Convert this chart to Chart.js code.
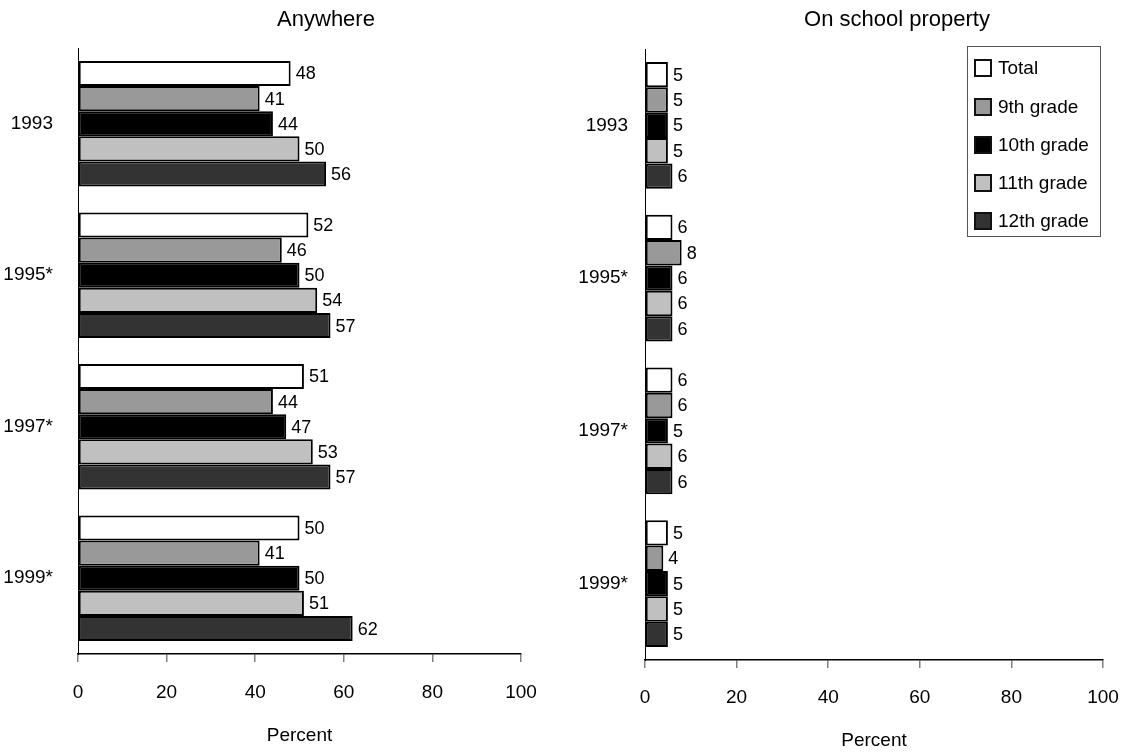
<!DOCTYPE html>
<html lang="en">

<head>
    <meta charset="UTF-8">
    <title>Carried a weapon</title>
    <script src="https://cdn.jsdelivr.net/npm/chart.js"></script>
    <style>
        body {
            margin: 0;
            background: #ffffff;
            font-family: 'Liberation Sans', Arial, sans-serif;
        }

        .panel {
            position: absolute;
            top: 0;
        }

        .panel-title {
            position: absolute;
            top: 6px;
            font-size: 22px;
            color: #000;
            transform: translateX(-50%);
            white-space: nowrap;
        }

        #legend {
            position: absolute;
            left: 967px;
            top: 46px;
            width: 134px;
            height: 191px;
            border: 1px solid #555;
            box-sizing: border-box;
            font-size: 19px;
        }

        .legend-item {
            position: absolute;
            left: 6px;
            height: 24px;
            display: flex;
            align-items: center;
            white-space: nowrap;
        }

        .legend-box {
            width: 18px;
            height: 18px;
            box-sizing: border-box;
            border: 2px solid #111;
            margin-right: 6px;
        }
    </style>
</head>

<body>

    <div class="panel" style="left:0px; width:560px; height:753px;">
        <canvas id="anywhere" width="560" height="753"></canvas>
    </div>
    <div class="panel" style="left:560px; width:565px; height:753px;">
        <canvas id="school" width="565" height="753"></canvas>
    </div>

    <div class="panel-title" style="left:326px;">Anywhere</div>
    <div class="panel-title" style="left:897px;">On school property</div>

    <div id="legend"></div>

    <script>
        const years = ['1993', '1995*', '1997*', '1999*'];
        const seriesNames = ['Total', '9th grade', '10th grade', '11th grade', '12th grade'];
        const seriesColors = ['#ffffff', '#999999', '#000000', '#c0c0c0', '#333333'];
        const xTicks = [0, 20, 40, 60, 80, 100];

        // Anywhere
        const anyTotal = [48, 52, 51, 50];
        const anyGrade9 = [41, 46, 44, 41];
        const anyGrade10 = [44, 50, 47, 50];
        const anyGrade11 = [50, 54, 53, 51];
        const anyGrade12 = [56, 57, 57, 62];

        // On school property
        const schTotal = [5, 6, 6, 5];
        const schGrade9 = [5, 8, 6, 4];
        const schGrade10 = [5, 6, 5, 5];
        const schGrade11 = [5, 6, 6, 5];
        const schGrade12 = [6, 6, 6, 5];

        const FONT = "'Liberation Sans', Arial, sans-serif";

        // value labels at the end of every bar
        const barLabels = {
            id: 'barLabels',
            afterDatasetsDraw(chart) {
                const ctx = chart.ctx;
                ctx.save();
                ctx.font = '18px ' + FONT;
                ctx.fillStyle = '#000';
                ctx.textBaseline = 'middle';
                ctx.textAlign = 'left';
                chart.data.datasets.forEach((ds, i) => {
                    chart.getDatasetMeta(i).data.forEach((bar, j) => {
                        ctx.fillText(ds.data[j], bar.x + 5, bar.y + 1);
                    });
                });
                ctx.restore();
            }
        };

        function makeDatasets(seriesData) {
            return seriesData.map((values, i) => ({
                label: seriesNames[i],
                data: values,
                backgroundColor: seriesColors[i],
                borderColor: '#000',
                borderWidth: 2,
                borderSkipped: false,
                categoryPercentage: 0.83,
                barPercentage: 1.0
            }));
        }

        function makeChart(canvasId, seriesData, lay) {
            const ctx = document.getElementById(canvasId).getContext('2d');
            return new Chart(ctx, {
                type: 'bar',
                data: {
                    labels: years,
                    datasets: makeDatasets(seriesData)
                },
                plugins: [barLabels],
                options: {
                    responsive: false,
                    animation: false,
                    indexAxis: 'y',
                    layout: {
                        padding: { top: lay.top, right: lay.right, left: 0, bottom: 0 }
                    },
                    plugins: {
                        legend: { display: false },
                        tooltip: { enabled: false },
                        title: { display: false }
                    },
                    scales: {
                        x: {
                            min: 0,
                            max: 100,
                            afterBuildTicks(scale) {
                                scale.ticks = xTicks.map(v => ({ value: v }));
                            },
                            afterFit(scale) {
                                scale.height = lay.xHeight;
                                // keep the plot width fixed, the last label fits in the padding
                                scale.paddingLeft = 0;
                                scale.paddingRight = 0;
                            },
                            grid: {
                                drawOnChartArea: false,
                                drawTicks: true,
                                tickLength: 8,
                                color: '#808080',
                                lineWidth: 1.5
                            },
                            border: { color: '#000', width: 1.5 },
                            ticks: {
                                color: '#000',
                                padding: lay.tickPad,
                                maxRotation: 0,
                                font: { family: FONT, size: 19 }
                            },
                            title: {
                                display: true,
                                text: 'Percent',
                                color: '#000',
                                padding: { top: 0, bottom: lay.titlePad },
                                font: { family: FONT, size: 19 }
                            }
                        },
                        y: {
                            afterFit(scale) {
                                scale.width = lay.yWidth;
                            },
                            grid: {
                                drawOnChartArea: false,
                                drawTicks: false
                            },
                            border: { color: '#000', width: 1 },
                            ticks: {
                                color: '#000',
                                padding: lay.yPad,
                                font: { family: FONT, size: 19 }
                            }
                        }
                    }
                }
            });
        }

        makeChart('anywhere',
            [anyTotal, anyGrade9, anyGrade10, anyGrade11, anyGrade12],
            { top: 48, right: 39, xHeight: 99, yWidth: 78, tickPad: 19, titlePad: 6, yPad: 25 });

        makeChart('school',
            [schTotal, schGrade9, schGrade10, schGrade11, schGrade12],
            { top: 49, right: 22, xHeight: 93, yWidth: 85, tickPad: 18, titlePad: 1, yPad: 17 });

        // legend box (top right of the school panel)
        const legendEl = document.getElementById('legend');
        const legendRows = [21, 60, 98, 136, 174];
        seriesNames.forEach((name, i) => {
            const item = document.createElement('div');
            item.className = 'legend-item';
            item.style.top = (legendRows[i] - 12) + 'px';
            const box = document.createElement('span');
            box.className = 'legend-box';
            box.style.background = seriesColors[i];
            item.appendChild(box);
            item.appendChild(document.createTextNode(name));
            legendEl.appendChild(item);
        });
    </script>

</body>

</html>
